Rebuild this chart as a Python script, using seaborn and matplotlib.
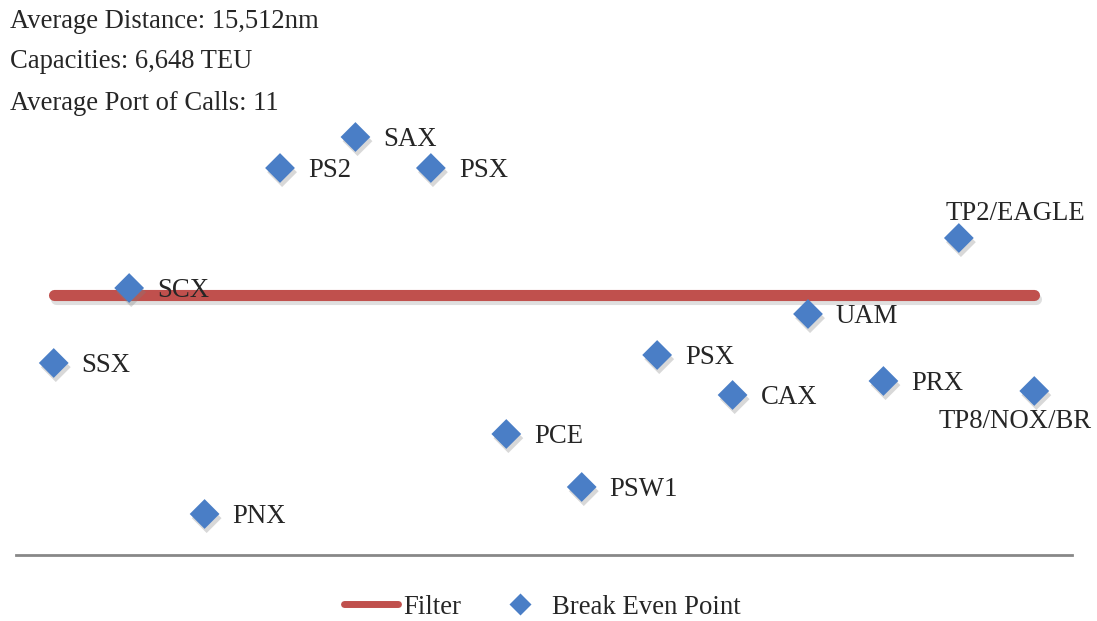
import numpy as np
import pandas as pd
import matplotlib
matplotlib.use("Agg")
import matplotlib.pyplot as plt
import matplotlib.patheffects as pe
from matplotlib.lines import Line2D
import seaborn as sns

# Services (category order along the axis)
services = ["SSX", "SCX", "PNX", "PS2", "SAX", "PSX", "PCE", "PSW1",
            "PSX", "CAX", "UAM", "PRX", "TP2/EAGLE", "TP8/NOX/BR"]
# Break-even level for each service
break_even = [38.4, 53.4, 8.2, 77.4, 83.6, 77.4, 24.2, 13.6,
              40.0, 32.0, 48.2, 34.8, 63.4, 32.8]
# Filter threshold applied across all services
filter_level = [52.0] * len(services)

summary_lines = ["Average Distance: 15,512nm",
                 "Capacities: 6,648 TEU",
                 "Average Port of Calls: 11"]

sns.set_style("white")
plt.rcParams["font.family"] = ["Liberation Serif", "DejaVu Serif"]

RED = "#C0504D"
BLUE = "#4A7EC6"
FS = 19.3

df = pd.DataFrame({"idx": np.arange(len(services)),
                   "service": services,
                   "value": break_even,
                   "filter": filter_level})

fig = plt.figure(figsize=(10.97, 6.21), dpi=100)
ax = fig.add_axes([0.0146, 0.1063, 0.9626, 0.8937])

sns.lineplot(data=df, x="idx", y="filter", ax=ax, color=RED, linewidth=8,
             solid_capstyle="round", legend=False, zorder=2,
             path_effects=[pe.SimpleLineShadow(offset=(1.5, -3), shadow_color="gray", alpha=0.25),
                           pe.Normal()])

sns.scatterplot(data=df, x="idx", y="value", ax=ax, marker="D", s=230,
                color=BLUE, edgecolor="none", legend=False, zorder=3)
ax.collections[-1].set_path_effects([
    pe.SimplePatchShadow(offset=(1.5, -3), shadow_rgbFace="gray", alpha=0.3),
    pe.Normal()])

# Service labels next to each marker
for i, (name, v) in enumerate(zip(services, break_even)):
    if name == "TP2/EAGLE":
        off = (-13, 24)
    elif name == "TP8/NOX/BR":
        off = (-96, -31)
    else:
        off = (28, -3)
    ax.annotate(name, (i, v), xytext=off, textcoords="offset pixels",
                ha="left", va="center", fontsize=FS)

ax.set_xlim(-0.5, len(services) - 0.5)
ax.set_ylim(0, 111)
ax.set_xticks([])
ax.set_yticks([])
ax.set_xlabel("")
ax.set_ylabel("")
for side in ["top", "right", "left"]:
    ax.spines[side].set_visible(False)
ax.spines["bottom"].set_color("#888888")
ax.spines["bottom"].set_linewidth(2)

# Summary text in the upper-left corner
for k, line in enumerate(summary_lines):
    fig.text(10 / 1097, 1 - (21 + 41 * k) / 621, line, ha="left", va="center",
             fontsize=19.2)

handles = [Line2D([0], [0], color=RED, linewidth=5, solid_capstyle="round"),
           Line2D([0], [0], marker="D", color="none", markerfacecolor=BLUE,
                  markeredgecolor="none", markersize=11)]
fig.legend(handles, ["Filter", "Break Even Point"], loc="center",
           bbox_to_anchor=(0.4945, 1 - 607 / 621), ncol=2, frameon=False,
           fontsize=FS, handlelength=2.0, handletextpad=0.2, columnspacing=1.2)

fig.savefig("out.png", dpi=100)
